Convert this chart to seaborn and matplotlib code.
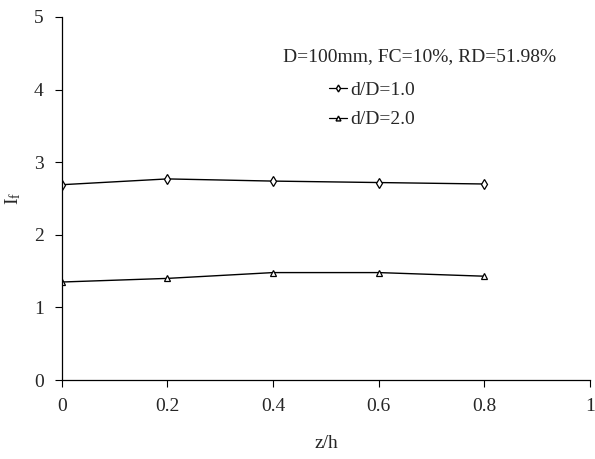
''' pile factor I_f along z/h for two d/D ratios '''
import matplotlib
matplotlib.use('Agg')
import matplotlib.pyplot as plt
import seaborn as sb
import pandas as pd

z_h = [0, 0.2, 0.4, 0.6, 0.8]
if_d1 = [2.69, 2.77, 2.74, 2.72, 2.70]
if_d2 = [1.35, 1.40, 1.48, 1.48, 1.43]
series_names = ['d/D=1.0', 'd/D=2.0']
note = 'D=100mm, FC=10%, RD=51.98%'

sb.set_theme(style='ticks')
plt.rcParams['font.family'] = ['Liberation Serif', 'DejaVu Serif']
plt.rcParams['mathtext.fontset'] = 'custom'
plt.rcParams['mathtext.rm'] = 'Liberation Serif'
plt.rcParams['mathtext.it'] = 'Liberation Serif'

data = pd.DataFrame({
    'z/h': z_h * 2,
    'If': if_d1 + if_d2,
    'series': [series_names[0]] * len(z_h) + [series_names[1]] * len(z_h),
})

fig = plt.figure(figsize=(5.95, 4.59), dpi=100)
ax = fig.add_axes([0.1037, 0.172, 0.888, 0.791])

sb.lineplot(data=data, x='z/h', y='If', hue='series', style='series',
            palette=['black', 'black'], markers=['d', '^'], dashes=False,
            markersize=5, markerfacecolor='white', markeredgecolor='black',
            markeredgewidth=0.9, linewidth=1.0, ax=ax, legend=False)

ax.set_xlim(0, 1)
ax.set_ylim(0, 5)
ax.set_xticks([0, 0.2, 0.4, 0.6, 0.8, 1])
ax.set_xticklabels(['0', '0.2', '0.4', '0.6', '0.8', '1'])
ax.set_yticks([0, 1, 2, 3, 4, 5])
ax.set_xlabel('z/h', fontsize=14, labelpad=14)
ax.set_ylabel(r'I$_\mathrm{f}$', fontsize=14, labelpad=8)
ax.tick_params(labelsize=14, length=5, width=0.8, color='black', pad=8)
for side in ['left', 'bottom']:
    ax.spines[side].set_color('black')
    ax.spines[side].set_linewidth(0.9)
sb.despine(ax=ax)

handles = [plt.Line2D([], [], color='black', lw=0.9, marker=m, markersize=3.5,
                      markerfacecolor='white', markeredgecolor='black')
           for m in ['d', '^']]
ax.text(0.419, 0.89, note, transform=ax.transAxes, fontsize=14, va='center')
ax.legend(handles, series_names, loc='upper left', bbox_to_anchor=(0.487, 0.85),
          frameon=False, fontsize=14, handlelength=0.95, handletextpad=0.15,
          labelspacing=0.62, borderpad=0)

fig.savefig('out.png', dpi=100)
